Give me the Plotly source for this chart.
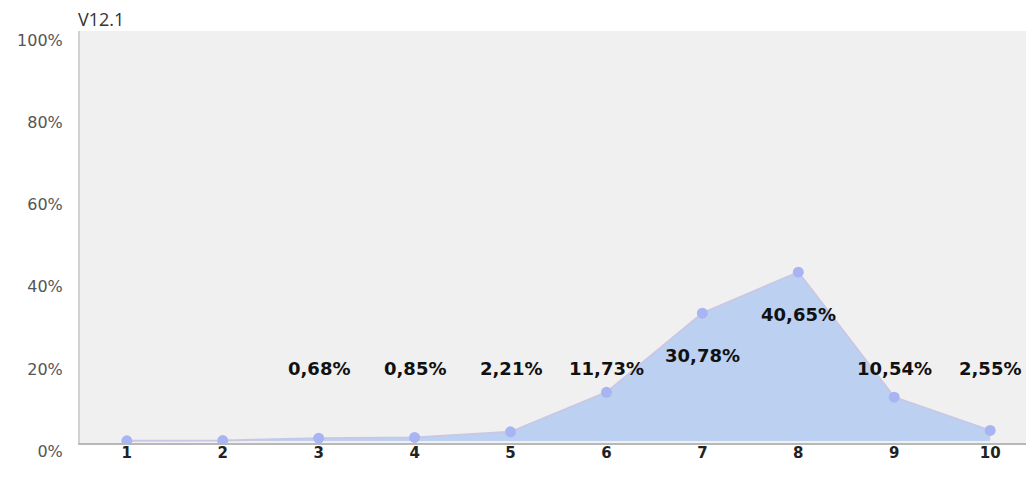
import plotly.graph_objects as go

categories = [1, 2, 3, 4, 5, 6, 7, 8, 9, 10]
values = [0.05, 0.1, 0.68, 0.85, 2.21, 11.73, 30.78, 40.65, 10.54, 2.55]
labeled = [False, False, True, True, True, True, True, True, True, True]
y_tick_values = [0, 20, 40, 60, 80, 100]
y_tick_text = ["0%", "20%", "40%", "60%", "80%", "100%"]
title_text = "V12.1"

# the printed tick labels of the original use a slightly compressed scale
label_scale = 4.11 / 4.16
label_offset = -0.24
tickvals = [v * label_scale + label_offset for v in y_tick_values]

fig = go.Figure()

fig.add_trace(go.Scatter(
    x=categories, y=values, mode="lines+markers",
    fill="tozeroy", fillcolor="#bcd1f1",
    line=dict(color="#c8c8e6", width=2),
    marker=dict(size=11, color="#a9b5f2"),
    hoverinfo="skip", showlegend=False,
))

annotations = []
for c, v, lab in zip(categories, values, labeled):
    if not lab:
        continue
    txt = f"{v:.2f}".replace(".", ",") + "%"
    annotations.append(dict(
        x=c, y=max(v - 10.2, 17.5), xref="x", yref="y",
        text=txt, showarrow=False,
        font=dict(family="DejaVu Sans", size=18, color="#111111", weight="bold"),
        xanchor="center", yanchor="middle",
    ))

fig.update_layout(
    width=1026, height=481,
    margin=dict(l=72, r=0, t=23, b=46),
    paper_bgcolor="white", plot_bgcolor="#f0f0f0",
    title=dict(text=title_text, x=70 / 1026, xref="container", xanchor="left",
               y=1 - 12 / 481, yref="container", yanchor="middle",
               font=dict(family="Open Sans", size=18, color="#333333")),
    xaxis=dict(range=[0.512, 10.457], tickvals=categories,
               ticktext=[str(c) for c in categories],
               showgrid=False, zeroline=False, showline=True,
               linecolor="#b8b8b8", linewidth=2, ticks="",
               ticklabelstandoff=-5,
               tickfont=dict(family="DejaVu Sans", size=15, color="#222222", weight="bold")),
    yaxis=dict(range=[-0.48, 98.7],
               tickvals=tickvals, ticktext=y_tick_text,
               ticklabelshift=9, ticklabelstandoff=12,
               showgrid=False, zeroline=False,
               showline=True, linecolor="#d2d2d2", linewidth=2, ticks="",
               tickfont=dict(family="DejaVu Sans", size=16, color="#555555")),
    annotations=annotations,
)

fig.write_html("out.html")
